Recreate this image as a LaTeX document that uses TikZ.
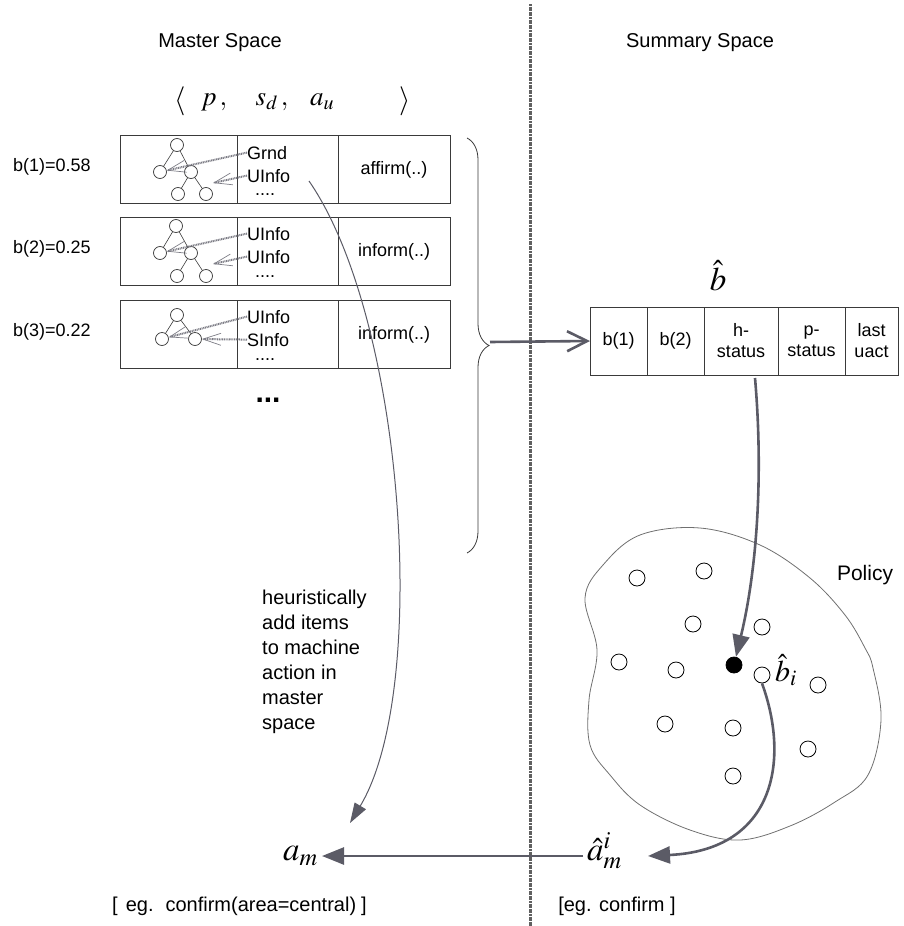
\documentclass[tikz,border=0pt]{standalone}
\usepackage{mathptmx}
\usepackage[no-math]{fontspec}
\setmainfont{Liberation Sans}
\usetikzlibrary{arrows.meta,positioning,decorations.pathreplacing}
\definecolor{arrgray}{HTML}{5B5B66}
\definecolor{linegray}{HTML}{707070}
\definecolor{boxgray}{HTML}{3A3A3A}

\tikzset{
  cell/.style={draw=boxgray, line width=1pt, minimum height=68pt, inner sep=0pt, outer sep=0pt,
    font=\fontsize{18}{21}\selectfont},
  knot/.style={circle, draw=boxgray, line width=0.7pt, minimum size=13pt, inner sep=0pt},
  dotpt/.style={circle, draw=black, line width=0.8pt, minimum size=16pt, inner sep=0pt},
  slot/.style={anchor=base west, inner sep=0pt, font=\fontsize{18}{21}\selectfont},
  label/.style={inner sep=0pt, font=\fontsize{18}{21}\selectfont},
  sym/.style={inner sep=2pt, font=\fontsize{27}{32}\selectfont},
  link/.style={arrgray!80, line width=2pt, dash pattern=on 1pt off 0.7pt,
    -{Straight Barb[length=18pt,width=12pt,line width=0.7pt]}},
  flow/.style={arrgray, line width=2.6pt, -{Triangle[length=22pt,width=17pt]}},
  thinflow/.style={arrgray, line width=1pt, -{Triangle[length=20pt,width=13pt]}},
}

\begin{document}
\begin{tikzpicture}[x=1pt, y=-1pt]
  \useasboundingbox (0,0) rectangle (904,926);

  % the two spaces
  \draw[gray!75!black, line width=3pt, dash pattern=on 2pt off 0.6pt] (530,4) -- (530,926);
  \node[font=\fontsize{20}{24}\selectfont] (mtitle) at (220,43) {Master Space};
  \node[font=\fontsize{20}{24}\selectfont] (stitle) at (700,43) {Summary Space};

  % hypothesis tuple
  \node[sym, font=\fontsize{29}{32}\selectfont] (lang) at (180,101) {$\langle$};
  \node[sym] (tp) at (214,102) {$p\,,$};
  \node[sym] (tsd) at (272,102) {$s_d\,,$};
  \node[sym] (tau) at (322,102) {$a_u$};
  \node[sym, font=\fontsize{29}{32}\selectfont] (rang) at (405,101) {$\rangle$};

  % hypotheses
  \node[label, anchor=west] (b1) at (13,167) {b(1)=0.58};
  \node[label, anchor=west] (b2) at (13,249) {b(2)=0.25};
  \node[label, anchor=west] (b3) at (13,332) {b(3)=0.22};

  \node[cell, minimum width=117pt] (r1a) at (178.5,169.5) {};
  \node[cell, minimum width=101pt, right=0pt of r1a] (r1b) {};
  \node[cell, minimum width=112pt, right=0pt of r1b] (r1c) {affirm(..)};
  \node[cell, minimum width=117pt] (r2a) at (178.5,251.5) {};
  \node[cell, minimum width=101pt, right=0pt of r2a] (r2b) {};
  \node[cell, minimum width=112pt, right=0pt of r2b] (r2c) {inform(..)};
  \node[cell, minimum width=117pt] (r3a) at (178.5,334.5) {};
  \node[cell, minimum width=101pt, right=0pt of r3a] (r3b) {};
  \node[cell, minimum width=112pt, right=0pt of r3b] (r3c) {inform(..)};

  % partition trees
  \node[knot] (t1a) at (177,145) {};
  \node[knot] (t1b) at (160,172) {};
  \node[knot] (t1c) at (191,172) {};
  \node[knot] (t1d) at (178,194) {};
  \node[knot] (t1e) at (206,194) {};
  \draw[boxgray, line width=0.6pt] (t1a) -- (t1b) (t1a) -- (t1c) (t1c) -- (t1d) (t1c) -- (t1e);
  \node[knot] (t2a) at (176,226) {};
  \node[knot] (t2b) at (160,253) {};
  \node[knot] (t2c) at (191,253) {};
  \node[knot] (t2d) at (177,276) {};
  \node[knot] (t2e) at (206,276) {};
  \draw[boxgray, line width=0.6pt] (t2a) -- (t2b) (t2a) -- (t2c) (t2c) -- (t2d) (t2c) -- (t2e);
  \node[knot] (t3a) at (177,315) {};
  \node[knot] (t3b) at (162,339) {};
  \node[knot] (t3c) at (195,339) {};
  \draw[boxgray, line width=0.6pt] (t3a) -- (t3b) (t3a) -- (t3c);

  % dialogue state items
  \node[slot] (g1) at (247,159) {Grnd};
  \node[slot] (u1) at (247,182) {UInfo};
  \node[slot] (d1) at (255,195) {....};
  \node[slot] (u2a) at (247,240) {UInfo};
  \node[slot] (u2b) at (247,263) {UInfo};
  \node[slot] (d2) at (255,277) {....};
  \node[slot] (u3) at (247,323) {UInfo};
  \node[slot] (s3) at (247,346) {SInfo};
  \node[slot] (d3) at (255,360) {....};
  \coordinate (p1) at (213,183);
  \coordinate (p2) at (213,264);
  \draw[link] (g1.west) -- (t1b);
  \draw[link] (u1.west) -- (p1);
  \draw[link] (u2a.west) -- (t2b);
  \draw[link] (u2b.west) -- (p2);
  \draw[link] (u3.west) -- (t3b);
  \draw[link] (s3.west) -- (t3c);

  \node[font=\fontsize{30}{34}\bfseries] (more) at (268,400) {...};

  % brace to summary vector
  \draw[boxgray, line width=0.8pt, decorate, decoration={brace, amplitude=22pt}] (467,138) -- (467,553);
  \coordinate (btip) at (490,342);

  \node[cell, minimum width=57pt] (v1) at (618.5,341) {b(1)};
  \node[cell, minimum width=57pt, right=0pt of v1] (v2) {b(2)};
  \node[cell, minimum width=74pt, right=0pt of v2, align=center] (v3) {h-\\status};
  \node[cell, minimum width=67pt, right=0pt of v3, align=center] (v4) {p-\\status};
  \node[cell, minimum width=53pt, right=0pt of v4, align=center] (v5) {last\\uact};
  \node[sym, font=\fontsize{33}{36}\selectfont] (bhat) at (718,276) {$\hat{b}$};
  \draw[arrgray, line width=2.6pt, -{Straight Barb[length=20pt,width=20pt]}] (btip) -- (v1.west);

  % policy region
  \draw[linegray, line width=0.8pt] plot[smooth cycle, tension=0.6] coordinates {
    (585,598) (597,650) (589,700) (590,745) (610,775) (640,805) (690,830) (740,840)
    (790,826) (835,802) (868,775) (881,720) (873,668) (865,648) (845,615) (810,578)
    (760,545) (700,528) (640,535) (603,565)};
  \node[font=\fontsize{21}{25}\selectfont] (policy) at (865,575) {Policy};
  \foreach \x/\y [count=\i] in {637/578, 704/571, 693/624, 762/627, 619/662, 676/670,
      818/685, 665/724, 733/728, 808/749, 733/776}
    \node[dotpt] (c\i) at (\x,\y) {};
  \node[dotpt] (ci) at (762,675) {};
  \node[dotpt, fill=black] (bdot) at (734,665) {};
  \node[sym, font=\fontsize{30}{34}\selectfont, anchor=west] (bi) at (773,670) {$\hat{b}_i$};

  \coordinate (bstart) at (755,378);
  \draw[flow] (bstart) .. controls (763,470) and (758,565) .. (bdot);

  % machine actions
  \node[sym, anchor=east, inner sep=4pt, font=\fontsize{33}{36}\selectfont] (am) at (322,856) {$a_m$};
  \node[sym, anchor=west, inner sep=4pt, font=\fontsize{33}{36}\selectfont] (ahat) at (583,851) {$\hat{a}_m^i$};
  \coordinate (aend) at (648,856);
  \draw[flow] (ci.south) .. controls (790,760) and (775,850) .. (aend);
  \draw[flow] (ahat.west |- am.east) -- (am.east);

  \coordinate (hstart) at (309,181);
  \coordinate (hend) at (350,823);
  \draw[thinflow] (hstart) .. controls (405,320) and (430,690) .. (hend);
  \node[anchor=north west, inner sep=0pt, align=left, font=\fontsize{20}{25}\selectfont] (heur) at (262,590)
    {heuristically\\add items\\to machine\\action in\\master\\space};

  \node[anchor=west, inner sep=0pt, font=\fontsize{20}{24}\selectfont] (ex1) at (112,906)
    {[\hspace{8pt}eg.\hspace{12pt}confirm(area=central)\hspace{5pt}]};
  \node[font=\fontsize{20}{24}\selectfont] (ex2) at (617,906) {[eg. confirm ]};
\end{tikzpicture}
\end{document}
